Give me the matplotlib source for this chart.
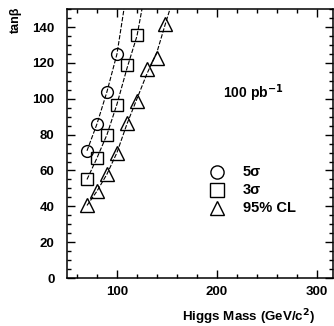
import matplotlib
matplotlib.use("Agg")
import matplotlib.pyplot as plt
from matplotlib.ticker import MultipleLocator

plt.rcParams["font.family"] = ["Liberation Sans", "DejaVu Sans"]
plt.rcParams["font.weight"] = "bold"

# discovery / exclusion points in the (mass, tan beta) plane
mass_5s = [70, 80, 90, 100]
tb_5s = [71, 86, 104, 125]
mass_3s = [70, 80, 90, 100, 110, 120]
tb_3s = [55, 67, 80, 96.5, 119, 135.5]
mass_cl = [70, 80, 90, 100, 110, 120, 130, 140, 148]
tb_cl = [40.5, 48.5, 58, 70, 86.5, 99, 116.5, 122.5, 141.5]

# contour lines drawn through the points up to the top of the frame
curve_5s_x = [70, 80, 90, 100, 107]
curve_5s_y = [71, 86, 104, 125, 150]
curve_3s_x = [70, 80, 90, 100, 110, 120, 125]
curve_3s_y = [55, 67, 80, 97, 117, 135, 150]
curve_cl_x = [70, 80, 90, 100, 110, 120, 130, 140, 148, 153]
curve_cl_y = [40.5, 48.5, 58, 70, 86, 100, 114, 126, 141, 150]

labels = ["5σ", "3σ", "95% CL"]
lumi = "100 pb$^{\\mathbf{-1}}$"

fig = plt.figure(figsize=(3.34, 3.26), dpi=100)
ax = fig.add_axes([0.2006, 0.147, 0.796, 0.825])

dash = dict(color="black", lw=0.8, ls=(0, (4, 1.5)))
ax.plot(curve_5s_x, curve_5s_y, **dash)
ax.plot(curve_3s_x, curve_3s_y, **dash)
ax.plot(curve_cl_x, curve_cl_y, **dash)

mk = dict(ls="none", mfc="none", mec="black", mew=1.0)
ax.plot(mass_5s, tb_5s, marker="o", ms=8.5, **mk)
ax.plot(mass_3s, tb_3s, marker="s", ms=9, **mk)
ax.plot(mass_cl, tb_cl, marker="^", ms=9.5, **mk)

ax.set_xlim(50, 316)
ax.set_ylim(0, 150)
ax.xaxis.set_major_locator(MultipleLocator(100))
ax.xaxis.set_minor_locator(MultipleLocator(20))
ax.yaxis.set_major_locator(MultipleLocator(20))
ax.yaxis.set_minor_locator(MultipleLocator(5))
ax.tick_params(which="both", direction="in", top=True, right=True,
               labelsize=9.5, width=1.0)
ax.tick_params(which="major", length=5.5)
ax.tick_params(which="minor", length=3)
ax.tick_params(axis="y", pad=9)
ax.tick_params(axis="x", pad=6)
for s in ax.spines.values():
    s.set_linewidth(1.1)

# legend drawn by hand
legend_markers = ["o", "s", "^"]
legend_y = [0.394, 0.327, 0.260]
for m, ly, lab in zip(legend_markers, legend_y, labels):
    ax.plot([0.564], [ly], transform=ax.transAxes, marker=m, ms=9.5,
            **mk, clip_on=False)
    ax.text(0.662, ly, lab, transform=ax.transAxes, ha="left",
            va="center", fontsize=10.5)

ax.text(0.70, 0.688, lumi, transform=ax.transAxes, ha="center",
        va="center", fontsize=10)

fig.text(0.048, 0.94, "tanβ", rotation=90, ha="center",
         va="center", fontsize=9)
fig.text(0.545, 0.028, "Higgs Mass (GeV/c$^{\\mathbf{2}}$)", ha="left",
         va="center", fontsize=9.6)

fig.savefig("out.png", dpi=100)
